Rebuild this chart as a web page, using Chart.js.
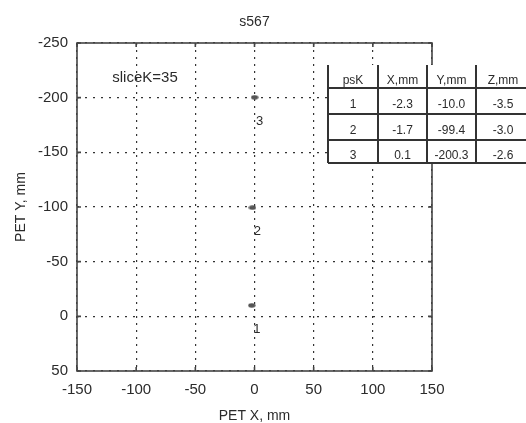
<!DOCTYPE html>
<html>
<head>
<meta charset="utf-8">
<title>s567</title>
<script src="https://cdn.jsdelivr.net/npm/chart.js@4.4.0/dist/chart.umd.min.js"></script>
<style>
	body { margin: 0; background: #fff; }
	canvas { display: block; }
</style>
</head>
<body>
<canvas id="petChart" width="526" height="423"></canvas>
<script>
'use strict'

//점 번호
const psK = [1, 2, 3];
//좌표 (mm)
const xMm = [-2.3, -1.7, 0.1];
const yMm = [-10.0, -99.4, -200.3];
const zMm = [-3.5, -3.0, -2.6];
//눈금
const xTicks = [-150, -100, -50, 0, 50, 100, 150];
const yTicks = [-250, -200, -150, -100, -50, 0, 50];
//표 머리글
const tableHead = ['psK', 'X,mm', 'Y,mm', 'Z,mm'];

const chartTitle = 's567';
const sliceText = 'sliceK=35';

const FONT = "'Liberation Sans', Arial, sans-serif";
const INK = '#2b2b2b';

// =====================================================================================================

//점 모양 (가로로 긴 점)
function makeDot(){
	const c = document.createElement('canvas');
	c.width = 8;
	c.height = 5;
	const g = c.getContext('2d');
	g.fillStyle = '#555';
	g.beginPath();
	g.ellipse(4, 2.5, 3.6, 2.2, 0, 0, Math.PI * 2);
	g.fill();
	return c;
}

//프레임, 안쪽 눈금, 점 번호, 표
const overlay = {
	id: 'overlay',
	afterDraw(chart){
		const ctx = chart.ctx;
		const area = chart.chartArea;
		const xs = chart.scales.x;
		const ys = chart.scales.y;

		ctx.save();
		//프레임
		ctx.strokeStyle = '#444';
		ctx.lineWidth = 1.6;
		ctx.strokeRect(area.left, area.top, area.right - area.left, area.bottom - area.top);

		//안쪽 눈금
		ctx.beginPath();
		xTicks.forEach((v) => {
			const px = xs.getPixelForValue(v);
			ctx.moveTo(px, area.bottom); ctx.lineTo(px, area.bottom - 4);
			ctx.moveTo(px, area.top); ctx.lineTo(px, area.top + 4);
		});
		yTicks.forEach((v) => {
			const py = ys.getPixelForValue(v);
			ctx.moveTo(area.left, py); ctx.lineTo(area.left + 4, py);
			ctx.moveTo(area.right, py); ctx.lineTo(area.right - 4, py);
		});
		ctx.stroke();

		//점 번호
		ctx.fillStyle = INK;
		ctx.font = '13px ' + FONT;
		ctx.textAlign = 'center';
		ctx.textBaseline = 'middle';
		psK.forEach((k, i) => {
			const px = xs.getPixelForValue(xMm[i]);
			const py = ys.getPixelForValue(yMm[i]);
			ctx.fillText(String(k), px + 5, py + 24);
		});

		//제목
		ctx.font = '14px ' + FONT;
		ctx.fillText(chartTitle, (area.left + area.right) / 2, 22);
		ctx.font = '15px ' + FONT;
		ctx.fillText(sliceText, 145, 78);

		//표
		const colX = [328, 378, 427, 476, 530];
		const rowY = [65, 88, 114, 140, 163];
		ctx.fillStyle = '#fff';
		ctx.fillRect(colX[0], rowY[0], colX[4] - colX[0], rowY[4] - rowY[0]);

		ctx.strokeStyle = '#333';
		ctx.lineWidth = 2;
		ctx.beginPath();
		for(let c = 0; c < 4; c++){
			ctx.moveTo(colX[c], rowY[0]); ctx.lineTo(colX[c], rowY[4]);
		}
		for(let r = 1; r < rowY.length; r++){
			ctx.moveTo(colX[0], rowY[r]); ctx.lineTo(colX[4], rowY[r]);
		}
		ctx.stroke();

		ctx.fillStyle = INK;
		ctx.font = '12px ' + FONT;
		const rows = [tableHead];
		psK.forEach((k, i) => {
			rows.push([String(k), xMm[i].toFixed(1), yMm[i].toFixed(1), zMm[i].toFixed(1)]);
		});
		rows.forEach((row, r) => {
			const cy = (rowY[r] + rowY[r + 1]) / 2 + 4;
			row.forEach((txt, c) => {
				ctx.fillText(txt, (colX[c] + colX[c + 1]) / 2, cy);
			});
		});
		ctx.restore();
	}
};

new Chart(document.getElementById('petChart'), {
	type: 'scatter',
	data: {
		datasets: [{
			data: psK.map((k, i) => ({ x: xMm[i], y: yMm[i] })),
			pointStyle: makeDot(),
			pointRadius: 4
		}]
	},
	options: {
		responsive: false,
		animation: false,
		layout: {
			padding: { top: 43, right: 94, bottom: 0, left: 0 }
		},
		plugins: {
			legend: { display: false },
			tooltip: { enabled: false }
		},
		scales: {
			x: {
				type: 'linear',
				min: -150,
				max: 150,
				afterBuildTicks(scale){ scale.ticks = xTicks.map((v) => ({ value: v })); },
				afterFit(scale){ scale.height = 52; },
				grid: { color: '#333', lineWidth: 1.2, drawTicks: false },
				border: { display: false, dash: [2, 5] },
				ticks: { padding: 10, color: INK, font: { family: FONT, size: 15 } },
				title: {
					display: true,
					text: 'PET X, mm',
					color: INK,
					padding: { top: 0, bottom: 0 },
					font: { family: FONT, size: 14, lineHeight: 1 }
				}
			},
			y: {
				type: 'linear',
				reverse: true,
				min: -250,
				max: 50,
				afterBuildTicks(scale){ scale.ticks = yTicks.map((v) => ({ value: v })); },
				afterFit(scale){ scale.width = 77; },
				grid: { color: '#333', lineWidth: 1.2, drawTicks: false },
				border: { display: false, dash: [2, 6] },
				ticks: { padding: 9, color: INK, font: { family: FONT, size: 15 } },
				title: {
					display: true,
					text: 'PET Y, mm',
					color: INK,
					padding: { top: 13, bottom: 0 },
					font: { family: FONT, size: 14 }
				}
			}
		}
	},
	plugins: [overlay]
});
</script>
</body>
</html>
